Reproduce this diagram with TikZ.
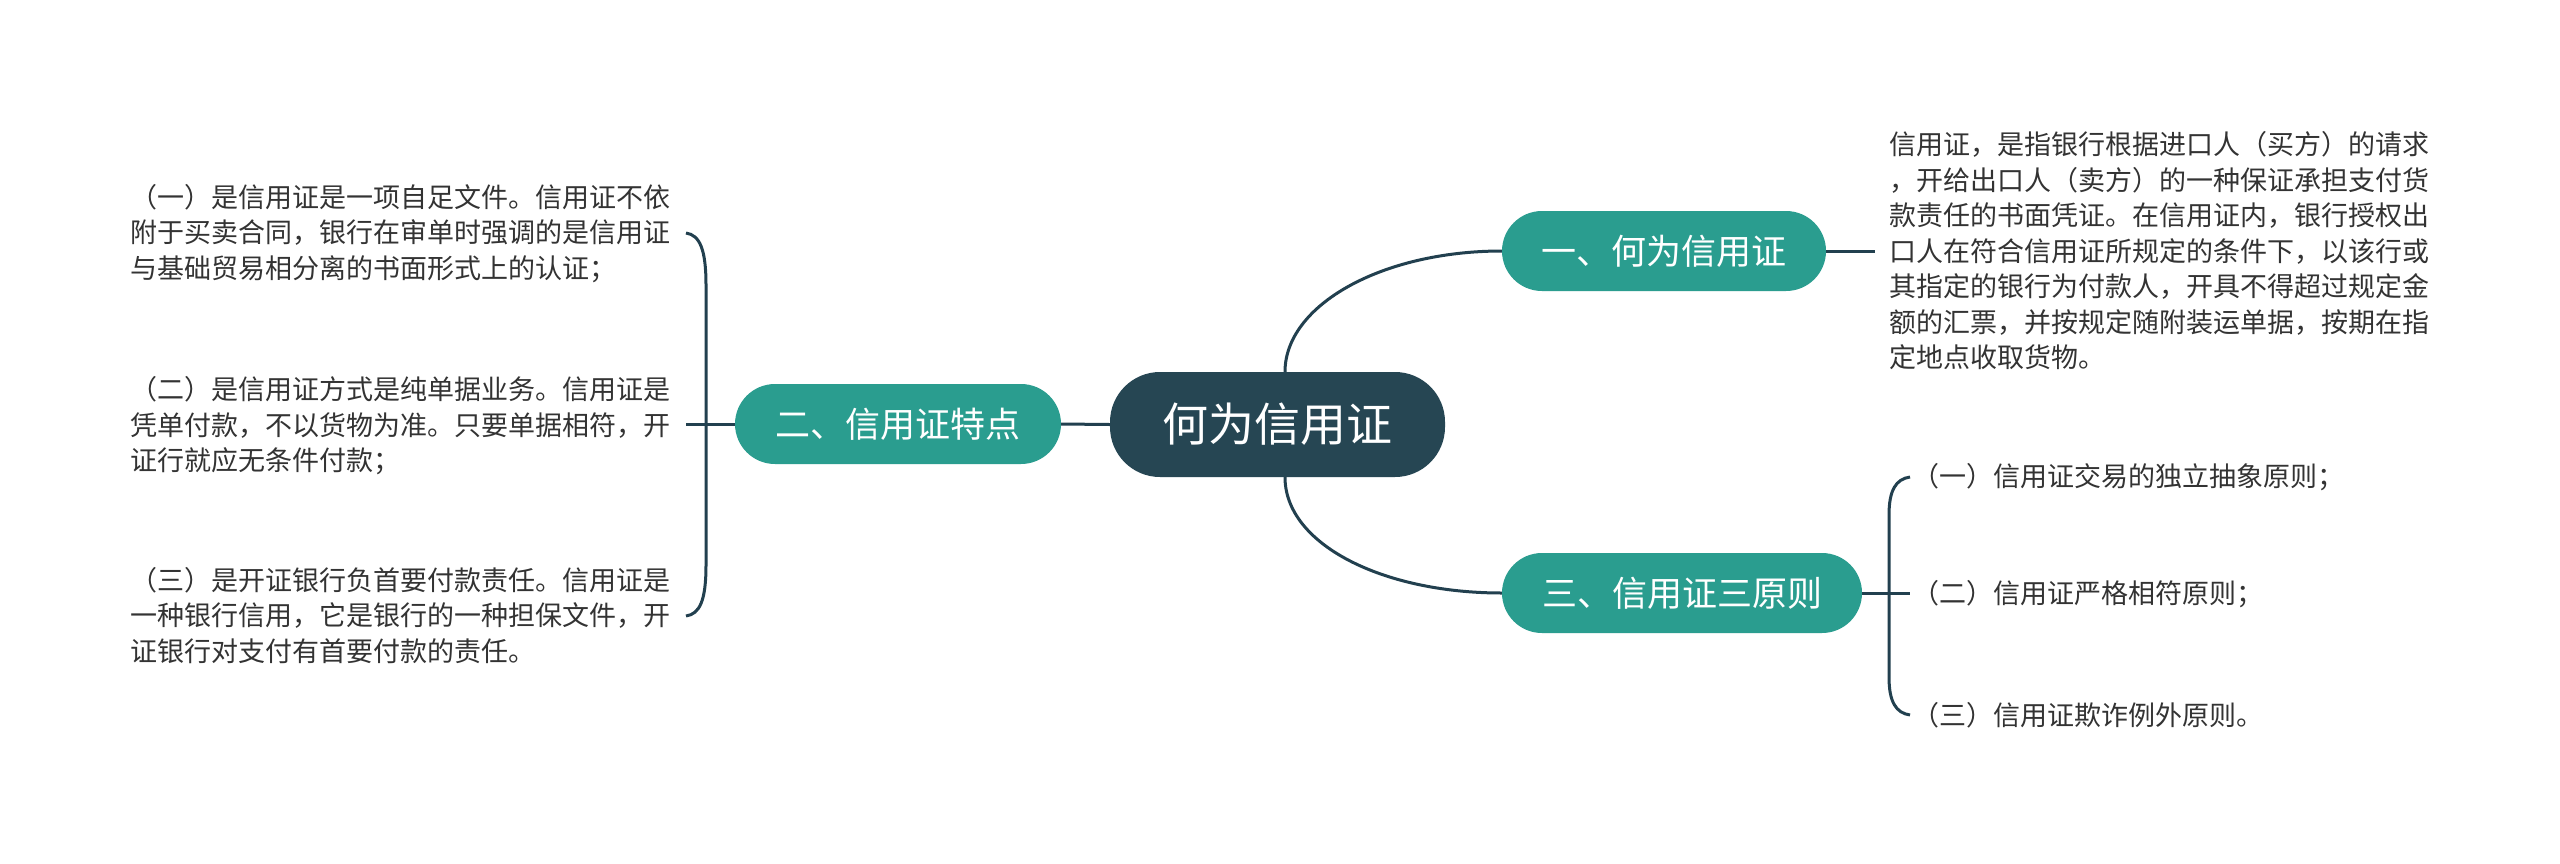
\documentclass[tikz,border=0pt]{standalone}
\usepackage{fontspec}
\newfontfamily\cjk{Noto Sans CJK SC}
\definecolor{teal1}{HTML}{2A9D8F}
\definecolor{rootc}{HTML}{264653}
\definecolor{linec}{HTML}{22404F}
\definecolor{textc}{HTML}{333333}
\begin{document}
\begin{tikzpicture}[x=1pt,y=-1pt,
  conn/.style={draw=linec, line width=3pt},
  sub/.style={fill=teal1, text=white, rounded corners=40pt, minimum height=80pt, inner sep=0pt, font=\cjk\fontsize{35}{40}\selectfont},
  rootbox/.style={fill=rootc, text=white, rounded corners=50pt, minimum height=105pt, inner sep=0pt, font=\cjk\fontsize{46}{50}\selectfont},
  leaf/.style={text=textc, align=left, anchor=west, inner sep=0pt, font=\cjk\fontsize{27}{35.5}\selectfont}]
\useasboundingbox (0,0) rectangle (2560,863);
\fill[white] (0,0) rectangle (2560,863);
% main nodes
\node[rootbox, minimum width=335pt] (root) at (1277.5,424.5) {何为信用证};
\node[sub, minimum width=326pt] (n2) at (898,424) {二、信用证特点};
\node[sub, minimum width=324pt] (n1) at (1664,251) {一、何为信用证};
\node[sub, minimum width=360pt] (n3) at (1682,593) {三、信用证三原则};
% left leaves
\node[leaf] (l1) at (130,233.5) {（一）是信用证是一项自足文件。信用证不依\\附于买卖合同，银行在审单时强调的是信用证\\与基础贸易相分离的书面形式上的认证；};
\node[leaf] (l2) at (130,426) {（二）是信用证方式是纯单据业务。信用证是\\凭单付款，不以货物为准。只要单据相符，开\\证行就应无条件付款；};
\node[leaf] (l3) at (130,615.5) {（三）是开证银行负首要付款责任。信用证是\\一种银行信用，它是银行的一种担保文件，开\\证银行对支付有首要付款的责任。};
% right leaves
\node[leaf] (r1) at (1889,251) {信用证，是指银行根据进口人（买方）的请求\\，开给出口人（卖方）的一种保证承担支付货\\款责任的书面凭证。在信用证内，银行授权出\\口人在符合信用证所规定的条件下，以该行或\\其指定的银行为付款人，开具不得超过规定金\\额的汇票，并按规定随附装运单据，按期在指\\定地点收取货物。};
\node[leaf] (r31) at (1912,477) {（一）信用证交易的独立抽象原则；};
\node[leaf] (r32) at (1912,594) {（二）信用证严格相符原则；};
\node[leaf] (r33) at (1912,715) {（三）信用证欺诈例外原则。};
% coordinates
\coordinate (lb) at (686,424);
\coordinate (lt) at (686,233);
\coordinate (lbot) at (686,616);
\coordinate (r1e) at (1875,251);
\coordinate (rb) at (1910,593);
\coordinate (rt) at (1910,477);
\coordinate (rbot) at (1910,715);
% connectors
\draw[conn] (root.west) -- (n2.east);
\draw[conn] (n2.west) -- (lb);
\draw[conn] (lt) .. controls (700,235) and (706,250) .. (706,285) -- (706,565) .. controls (706,600) and (700,614) .. (lbot);
\draw[conn] ([xshift=7.5pt]root.north) .. controls (1285,305) and (1382,251) .. (n1.west);
\draw[conn] ([xshift=7.5pt]root.south) .. controls (1285,544) and (1382,593) .. (n3.west);
\draw[conn] (n1.east) -- (r1e);
\draw[conn] (n3.east) -- (rb);
\draw[conn] (rt) .. controls (1896,479) and (1889,490) .. (1889,515) -- (1889,677) .. controls (1889,702) and (1896,713) .. (rbot);
\end{tikzpicture}
\end{document}
